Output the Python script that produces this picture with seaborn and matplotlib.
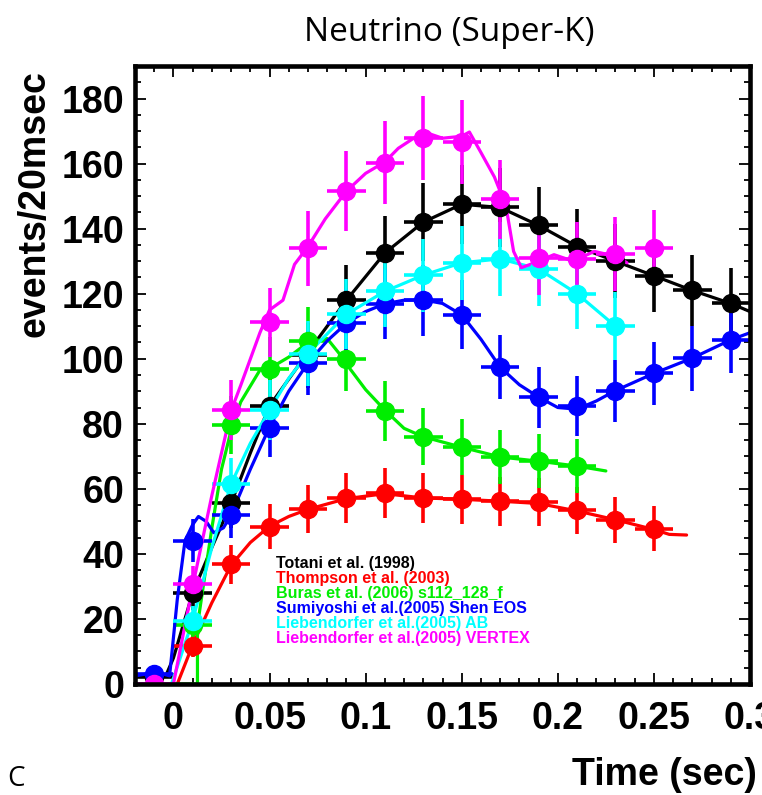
import numpy as np
import pandas as pd
import matplotlib
matplotlib.use("Agg")
import matplotlib.pyplot as plt
import seaborn as sns
from matplotlib.ticker import MultipleLocator

# Super-K neutrino event rate, 20 msec bins

# binned points (bin centres, events/20msec)
totani_t = [-0.01, 0.01, 0.03, 0.05, 0.07, 0.09, 0.11, 0.13, 0.15, 0.17, 0.19, 0.21, 0.23, 0.25, 0.27, 0.29]
totani_n = [2, 28, 55.5, 85.5, 101, 118, 132.5, 142, 147.5, 146.5, 141, 134.5, 130, 125.5, 121, 117]

thompson_t = [0.01, 0.03, 0.05, 0.07, 0.09, 0.11, 0.13, 0.15, 0.17, 0.19, 0.21, 0.23, 0.25]
thompson_n = [11.7, 36.8, 48.4, 53.7, 57.2, 58.7, 57.2, 56.8, 56.2, 55.9, 53.4, 50.5, 47.8]

buras_t = [0.01, 0.03, 0.05, 0.07, 0.09, 0.11, 0.13, 0.15, 0.17, 0.19, 0.21]
buras_n = [18, 79.5, 96.8, 105.5, 100, 84, 76, 72.8, 69.8, 68.5, 67]

sumiyoshi_t = [-0.01, 0.01, 0.03, 0.05, 0.07, 0.09, 0.11, 0.13, 0.15, 0.17, 0.19, 0.21, 0.23, 0.25, 0.27, 0.29]
sumiyoshi_n = [3, 44, 52, 78.6, 98.7, 110.9, 116.9, 118, 113.5, 97.4, 88.2, 85.5, 90.2, 95.5, 100.2, 105.8]

lieb_ab_t = [0.01, 0.03, 0.05, 0.07, 0.09, 0.11, 0.13, 0.15, 0.17, 0.19, 0.21, 0.23]
lieb_ab_n = [19.5, 61.5, 84.2, 101.6, 113.7, 120.7, 125.7, 129.5, 130.7, 127.6, 120, 110]

lieb_vx_t = [-0.01, 0.01, 0.03, 0.05, 0.07, 0.09, 0.11, 0.13, 0.15, 0.17, 0.19, 0.21, 0.23, 0.25]
lieb_vx_n = [0, 30.8, 84.2, 111.2, 133.9, 151.5, 160.3, 167.8, 166.5, 149, 131.1, 130.7, 132.2, 134.1]

# model curves
totani_ct = [-0.02, -0.004, 0.0, 0.01, 0.02, 0.03, 0.04, 0.05, 0.07, 0.09, 0.11, 0.13, 0.15, 0.17, 0.19, 0.21, 0.23, 0.25, 0.27, 0.29, 0.30]
totani_cn = [2.5, 2.5, 8, 28, 42, 55.5, 71, 85.5, 102, 118, 132.5, 142, 147.5, 146.5, 141, 134.5, 130, 125.5, 121, 117, 114.5]

thompson_ct = [0.002, 0.01, 0.02, 0.03, 0.04, 0.05, 0.06, 0.07, 0.09, 0.11, 0.13, 0.15, 0.17, 0.19, 0.21, 0.23, 0.25, 0.258, 0.267]
thompson_cn = [0, 12, 25, 36.5, 43.5, 48.5, 51.5, 53.7, 57, 58.5, 57.2, 56.8, 56.2, 55.5, 53.2, 50.5, 47.5, 46, 45.8]

buras_ct = [0.001, 0.0125, 0.0125, 0.02, 0.025, 0.03, 0.035, 0.045, 0.05, 0.06, 0.07, 0.08, 0.086, 0.092, 0.10, 0.11, 0.12, 0.13, 0.15, 0.17, 0.19, 0.21, 0.225]
buras_cn = [0, 0, 18, 48, 66, 78, 86.7, 96.5, 97, 100.5, 105, 106.2, 101.8, 96.8, 90.5, 84.2, 78.6, 76, 72.8, 69.8, 68.5, 67, 65.5]

sumiyoshi_ct = [-0.02, -0.015, -0.01, -0.005, -0.002, 0.002, 0.006, 0.01, 0.013, 0.017, 0.021, 0.026, 0.03, 0.04, 0.05, 0.06,
                0.07, 0.08, 0.09, 0.10, 0.11, 0.12, 0.13, 0.14, 0.15, 0.16, 0.17, 0.18, 0.19, 0.20, 0.21, 0.22, 0.23, 0.25, 0.27, 0.29, 0.30]
sumiyoshi_cn = [2.5, 3, 4.3, 3, 2.5, 26, 44, 49, 51.5, 50, 46.5, 48, 52, 66, 79, 90,
                98.7, 105.5, 110.9, 114.5, 116.9, 118, 118.1, 117, 113.5, 106, 97.4, 92, 88.2, 85, 84.5, 87, 90.2, 95.5, 100.2, 105.8, 108]

lieb_ab_ct = [-0.001, 0.01, 0.02, 0.03, 0.04, 0.05, 0.06, 0.07, 0.09, 0.11, 0.13, 0.15, 0.17, 0.19, 0.21, 0.23]
lieb_ab_cn = [0, 19.5, 42, 61.5, 74, 84.2, 94, 101.6, 113.7, 120.7, 125.7, 129.5, 130.7, 127.6, 120, 110]

lieb_vx_ct = [-0.02, 0.0, 0.01, 0.02, 0.03, 0.035, 0.045, 0.05, 0.057, 0.063, 0.07, 0.079, 0.09, 0.10, 0.11, 0.117,
              0.125, 0.134, 0.14, 0.15, 0.154, 0.16, 0.167, 0.173, 0.177, 0.181, 0.188, 0.198, 0.208, 0.219, 0.23, 0.236]
lieb_vx_cn = [0, 0, 30, 58, 84, 91.8, 108, 115, 118, 129, 134.5, 143, 151.5, 157, 160.5, 164.7,
              167.8, 169, 167.8, 168.4, 169.7, 163.4, 155.9, 147, 133, 128, 129.5, 132, 130, 133, 131.5, 129.5]

labels = ["Totani et al. (1998)", "Thompson et al. (2003)", "Buras et al. (2006) s112_128_f",
          "Sumiyoshi et al.(2005) Shen EOS", "Liebendorfer et al.(2005) AB", "Liebendorfer et al.(2005) VERTEX"]
colors = ["#000000", "#ff0000", "#00ee00", "#0000ff", "#00ffff", "#ff00ff"]

points = [(totani_t, totani_n), (thompson_t, thompson_n), (buras_t, buras_n),
          (sumiyoshi_t, sumiyoshi_n), (lieb_ab_t, lieb_ab_n), (lieb_vx_t, lieb_vx_n)]
curves = [(totani_ct, totani_cn), (thompson_ct, thompson_cn), (buras_ct, buras_cn),
          (sumiyoshi_ct, sumiyoshi_cn), (lieb_ab_ct, lieb_ab_cn), (lieb_vx_ct, lieb_vx_cn)]

sns.set_style("ticks")
plt.rcParams["font.family"] = ["Liberation Sans", "DejaVu Sans"]
plt.rcParams["text.color"] = "black"
plt.rcParams["xtick.color"] = "black"
plt.rcParams["ytick.color"] = "black"
plt.rcParams["axes.labelcolor"] = "black"

fig = plt.figure(figsize=(7.62, 7.95), dpi=100)
ax = fig.add_axes([135 / 762, 111 / 795, 615 / 762, 618 / 795])

for lab, col, (ct, cn), (pt, pn) in zip(labels, colors, curves, points):
    curve = pd.DataFrame({"t": ct, "n": cn})
    sns.lineplot(data=curve, x="t", y="n", color=col, lw=2.3, sort=False,
                 estimator=None, label=lab, ax=ax)
    pn = np.array(pn)
    ax.errorbar(pt, pn, yerr=np.sqrt(pn), xerr=0.01, fmt="o", color=col,
                ms=13, elinewidth=2.6, capsize=0)

ax.set_xlim(-0.02, 0.3)
ax.set_ylim(0, 190)
ax.set_xlabel("")
ax.set_ylabel("")

ax.set_xticks([0, 0.05, 0.1, 0.15, 0.2, 0.25, 0.3], ["0", "0.05", "0.1", "0.15", "0.2", "0.25", "0.3"])
ax.set_yticks(range(0, 181, 20))
ax.xaxis.set_minor_locator(MultipleLocator(0.01))
ax.yaxis.set_minor_locator(MultipleLocator(5))
ax.tick_params(which="both", direction="in", top=True, right=True, width=1.3, color="black")
ax.tick_params(which="major", length=8)
ax.tick_params(which="minor", length=4)
ax.tick_params(axis="x", which="major", pad=12, labelsize=27, labelcolor="black")
ax.tick_params(axis="y", which="major", pad=8, labelsize=27, labelcolor="black")
for lbl in ax.get_xticklabels() + ax.get_yticklabels():
    lbl.set_fontweight("bold")
for sp in ax.spines.values():
    sp.set_linewidth(3.3)
    sp.set_color("black")

leg = ax.legend(loc="upper left", bbox_to_anchor=(0.216, 0.22), frameon=False,
                handlelength=0, handletextpad=0, labelspacing=0.0, borderpad=0,
                labelcolor="linecolor",
                prop={"family": "Liberation Sans", "size": 11.5, "weight": "bold"})

fig.text(35 / 762, 1 - 70 / 795, "events/20msec", rotation=90, ha="center", va="top",
         fontsize=27, fontweight="bold", color="black")
fig.text(757 / 762, 10 / 795, "Time (sec)", ha="right", va="baseline",
         fontsize=27, fontweight="bold", color="black")
fig.text(449 / 762, 1 - 41 / 795, "Neutrino (Super-K)", ha="center", va="baseline",
         fontsize=24, color="black", family=["Open Sans", "DejaVu Sans"])
fig.text(7 / 762, 9 / 795, "C", ha="left", va="baseline", color="black",
         fontsize=20, family=["Open Sans", "DejaVu Sans"])

fig.savefig("out.png", dpi=100)
